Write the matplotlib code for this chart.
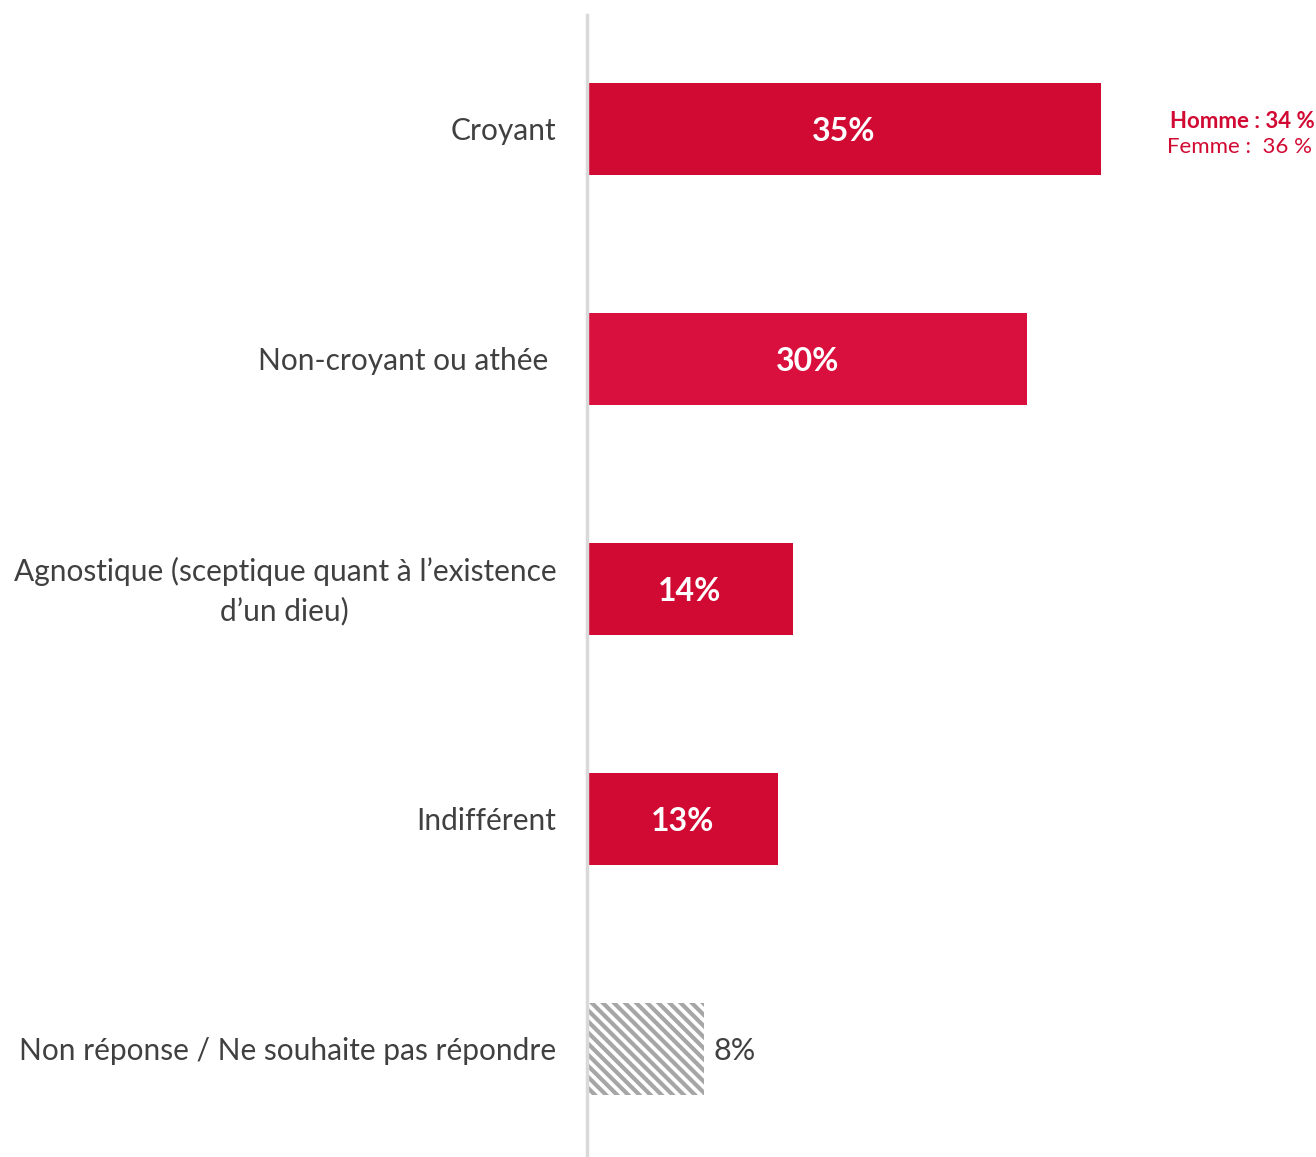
import matplotlib.pyplot as plt
import matplotlib as mpl

plt.rcParams['font.family'] = ['Lato', 'DejaVu Sans']
mpl.rcParams['hatch.linewidth'] = 3.0

categories = ["Croyant", "Non-croyant ou athée ",
              "Agnostique (sceptique quant à l\u2019existence\nd\u2019un dieu)",
              "Indifférent", "Non réponse / Ne souhaite pas répondre"]
values = [35, 30, 14, 13, 8]
colors = ["#D10A33", "#D9103E", "#D10A33", "#D10A33", "#A6A6A6"]
note_homme = "Homme : 34 %"
note_femme = "Femme :  36 %"

fig = plt.figure(figsize=(13.16, 11.57), dpi=100)
W, H = 1316, 1157
ax = fig.add_axes([587 / W, 0, (W - 587) / W, (1157 - 15) / H])

px = 14.68  # pixels per percent
ax.set_xlim(0, (W - 587) / px)
ax.set_ylim(4.47, -0.496)

dy = 0.01  # small nudge so text sits on the bar centre
for i, (v, c) in enumerate(zip(values, colors)):
    if i == len(values) - 1:
        ax.barh(i, v, height=0.4, color="white", edgecolor=c, hatch="\\\\\\", linewidth=0)
        ax.text(v + 0.6, i + dy, f"{v}%", va="center", ha="left", fontsize=22, color="#404040")
    else:
        ax.barh(i, v, height=0.4, color=c, linewidth=0)
        ax.text(v / 2, i + dy, f"{v}%", va="center", ha="center", fontsize=23,
                color="white", fontweight="bold")

for i, lab in enumerate(categories):
    ax.text(-2.1, i + dy, lab, ha="right", va="center", multialignment="center",
            fontsize=21.5, color="#404040", linespacing=1.45)

ax.text(49.6, -0.035, note_homme, ha="right", va="center", fontsize=16,
        color="#D10A33", fontweight="bold")
ax.text(49.4, 0.08, note_femme, ha="right", va="center", fontsize=16,
        color="#D10A33")

for s in ["top", "right", "bottom"]:
    ax.spines[s].set_visible(False)
ax.spines["left"].set_color("#D9D9D9")
ax.spines["left"].set_linewidth(2.5)
ax.set_xticks([])
ax.set_yticks([])
ax.patch.set_alpha(0)

fig.savefig("out.png", dpi=100)
